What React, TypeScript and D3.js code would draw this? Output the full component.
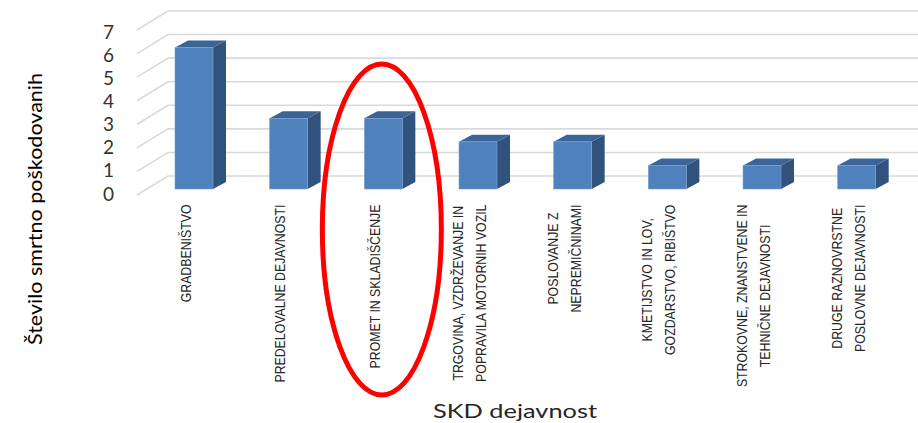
import React, { useEffect, useRef } from "react";
import * as d3 from "d3";

// ---- data ----
const categories = [
  "GRADBENIŠTVO",
  "PREDELOVALNE DEJAVNOSTI",
  "PROMET IN SKLADIŠČENJE",
  "TRGOVINA, VZDRŽEVANJE IN\nPOPRAVILA MOTORNIH VOZIL",
  "POSLOVANJE Z\nNEPREMIČNINAMI",
  "KMETIJSTVO IN LOV,\nGOZDARSTVO, RIBIŠTVO",
  "STROKOVNE, ZNANSTVENE IN\nTEHNIČNE DEJAVNOSTI",
  "DRUGE RAZNOVRSTNE\nPOSLOVNE DEJAVNOSTI",
];
const values = [6, 3, 3, 2, 2, 1, 1, 1];
const yTicks = [0, 1, 2, 3, 4, 5, 6, 7];
const highlighted = "PROMET IN SKLADIŠČENJE";
const yTitle = "Število smrtno poškodovanih";
const xTitle = "SKD dejavnost";

const W = 918;
const H = 423;

export default function App() {
  const ref = useRef<SVGSVGElement | null>(null);

  useEffect(() => {
    document.body.style.margin = "0";
    const svg = d3.select(ref.current);
    svg.selectAll("*").remove();

    const wallLeft = 168;
    const wallRight = W;
    const sideDX = 31;
    const sideDY = 19;
    const yBack = d3.scaleLinear().domain([0, 7]).range([176, 11]);
    const yBar = d3.scaleLinear().domain([0, 7]).range([189, 189 - 7 * 23.57]);
    const yTickPos = d3.scaleLinear().domain([0, 7]).range([193, 31.5]);
    const x = d3.scalePoint<string>().domain(categories).range([194, 856.7]);
    const halfW = 19;
    const bdx = 13;
    const bdy = 7;

    // gridlines (back wall + side wall)
    const grid = svg.append("g").attr("stroke", "#d9d9d9").attr("stroke-width", 1.6).attr("fill", "none");
    yTicks.forEach((t) => {
      const yb = yBack(t);
      grid.append("path").attr("d", `M${wallLeft - sideDX},${yb + sideDY}L${wallLeft},${yb}L${wallRight},${yb}`);
    });

    // tick labels
    svg
      .append("g")
      .selectAll("text")
      .data(yTicks)
      .join("text")
      .attr("x", 114)
      .attr("y", (d) => yTickPos(d))
      .attr("text-anchor", "end")
      .attr("dominant-baseline", "central")
      .attr("font-family", "Lato, 'Open Sans', sans-serif")
      .attr("font-size", 19)
      .attr("fill", "#333333")
      .text((d) => String(d));

    // bars
    const bars = svg.append("g");
    categories.forEach((c, i) => {
      const cx = x(c)!;
      const top = yBar(values[i]);
      const base = yBar(0);
      const l = cx - halfW;
      const r = cx + halfW;
      bars
        .append("path")
        .attr("d", `M${r},${top}L${r + bdx},${top - bdy}L${r + bdx},${base - bdy}L${r},${base}Z`)
        .attr("fill", "#31527d");
      bars
        .append("path")
        .attr("d", `M${l},${top}L${r},${top}L${r + bdx},${top - bdy}L${l + bdx},${top - bdy}Z`)
        .attr("fill", "#3b6596");
      bars
        .append("rect")
        .attr("x", l)
        .attr("y", top)
        .attr("width", r - l)
        .attr("height", base - top)
        .attr("fill", "#4f81bd")
        .attr("stroke", "#7a9fd0")
        .attr("stroke-width", 0.6);
    });

    // category labels
    const scaleT = 0.805;
    const labelTop = 204.5;
    const lineGap = 23;
    const lg = svg.append("g");
    categories.forEach((c) => {
      const lines = c.split("\n");
      const cx = x(c)! - 9;
      const texts = lines.map((ln, j) => {
        const xx = cx + (j - (lines.length - 1) / 2) * lineGap;
        return lg
          .append("text")
          .attr("text-anchor", "middle")
          .attr("dominant-baseline", "central")
          .attr("font-family", "'Liberation Sans', Arial, sans-serif")
          .attr("font-size", 15.3)
          .attr("fill", "#262626")
          .attr("data-x", xx)
          .text(ln);
      });
      const lens = texts.map((t) => (t.node() as SVGTextElement).getComputedTextLength() * scaleT);
      const maxLen = d3.max(lens) ?? 0;
      const cy = labelTop + maxLen / 2;
      texts.forEach((t) => {
        const xx = +t.attr("data-x");
        t.attr("transform", `translate(${xx},${cy}) rotate(-90) scale(${scaleT},1)`);
      });
    });

    // highlight ellipse
    svg
      .append("ellipse")
      .attr("cx", x(highlighted)! - 1.5)
      .attr("cy", 229.5)
      .attr("rx", 59.5)
      .attr("ry", 165.5)
      .attr("fill", "none")
      .attr("stroke", "#ff0000")
      .attr("stroke-width", 5);

    // axis titles
    svg
      .append("text")
      .attr("transform", `translate(42,209) rotate(-90)`)
      .attr("text-anchor", "middle")
      .attr("font-family", "Lato, 'Open Sans', sans-serif")
      .attr("font-size", 20)
      .attr("fill", "#000")
      .attr("textLength", 272)
      .attr("lengthAdjust", "spacingAndGlyphs")
      .text(yTitle);

    svg
      .append("text")
      .attr("x", 515)
      .attr("y", 418)
      .attr("text-anchor", "middle")
      .attr("font-family", "Lato, 'Open Sans', sans-serif")
      .attr("font-size", 19.5)
      .attr("fill", "#262626")
      .attr("textLength", 164)
      .attr("lengthAdjust", "spacingAndGlyphs")
      .text(xTitle);
  }, []);

  return (
    <svg
      ref={ref}
      width={W}
      height={H}
      style={{ position: "absolute", left: 0, top: 0, background: "#fff", display: "block" }}
    />
  );
}
